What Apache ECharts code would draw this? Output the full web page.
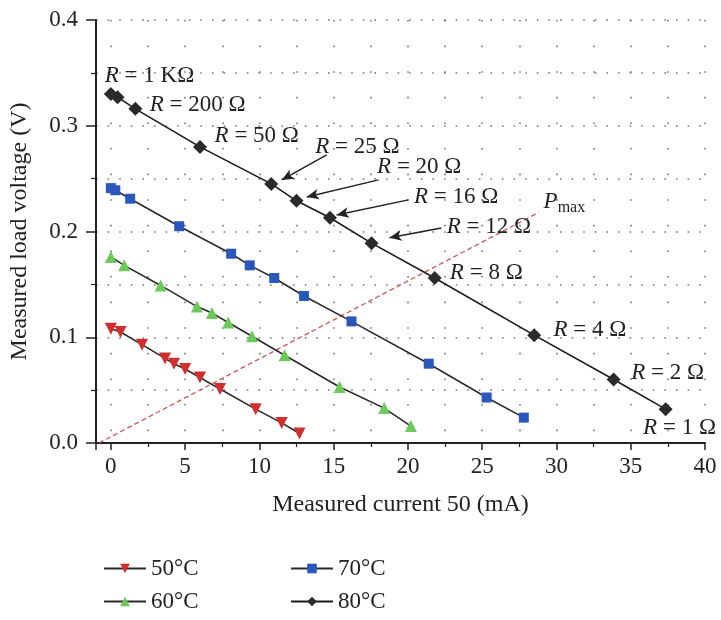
<!DOCTYPE html>
<html>
<head>
<meta charset="utf-8">
<script src="https://cdn.jsdelivr.net/npm/echarts@6/dist/echarts.min.js"></script>
<style>
html,body{margin:0;padding:0;background:#fff;}
#c{width:721px;height:620px;}
</style>
</head>
<body>
<div id="c"></div>
<script>
// ---- data ----
const seriesNames = ['50°C', '60°C', '70°C', '80°C'];

const x50 = [0, 0.65, 2.1, 3.65, 4.25, 5.0, 6.0, 7.35, 9.75, 11.5, 12.7];
const y50 = [0.108, 0.105, 0.093, 0.080, 0.075, 0.070, 0.062, 0.051, 0.032, 0.019, 0.009];

const x60 = [0, 0.9, 3.35, 5.8, 6.8, 7.9, 9.5, 11.7, 15.4, 18.4, 20.2];
const y60 = [0.176, 0.168, 0.149, 0.129, 0.123, 0.114, 0.101, 0.083, 0.053, 0.033, 0.016];

const x70 = [0, 0.3, 1.3, 4.6, 8.1, 9.35, 11.0, 13.0, 16.2, 21.4, 25.3, 27.8];
const y70 = [0.241, 0.239, 0.231, 0.205, 0.179, 0.168, 0.156, 0.139, 0.115, 0.075, 0.043, 0.024];

const x80 = [0, 0.45, 1.65, 6.0, 10.8, 12.5, 14.75, 17.55, 21.8, 28.5, 33.85, 37.35];
const y80 = [0.330, 0.327, 0.316, 0.280, 0.245, 0.229, 0.213, 0.189, 0.156, 0.102, 0.060, 0.032];

// P_max line end points
const pmaxX = [-0.8, 28.8];
const pmaxY = [0, 0.218];

// annotation labels (left edge x, vertical centre y, in data units)
const labelText = ['R = 1 KΩ', 'R = 200 Ω', 'R = 50 Ω', 'R = 25 Ω', 'R = 20 Ω', 'R = 16 Ω',
                   'R = 12 Ω', 'R = 8 Ω', 'R = 4 Ω', 'R = 2 Ω', 'R = 1 Ω', 'Pmax'];
const labelX = [-0.44, 2.58, 6.95, 13.72, 17.89, 20.37, 22.58, 22.79, 29.77, 35.0, 35.8, 29.1];
const labelY = [0.347, 0.320, 0.290, 0.280, 0.261, 0.233, 0.204, 0.161, 0.107, 0.066, 0.014, 0.228];

// arrows: from (ax0,ay0) to (ax1,ay1) in data units
const arrowX0 = [14.53, 18.02, 20.03, 22.25];
const arrowY0 = [0.2725, 0.2488, 0.2299, 0.2034];
const arrowX1 = [11.51, 13.19, 15.2, 18.76];
const arrowY1 = [0.2488, 0.2327, 0.2157, 0.194];

// axis ticks
const xTicks = [0, 5, 10, 15, 20, 25, 30, 35, 40];
const yTicks = [0.0, 0.1, 0.2, 0.3, 0.4];

// ---- build ----
const FONT = 'Liberation Serif';
const zip = (xs, ys) => xs.map((v, i) => [v, ys[i]]);

const markerStyle = [
  {symbol: 'triangle', rotate: 180, color: '#d12f2f', size: 12},
  {symbol: 'triangle', rotate: 0, color: '#6cc95a', size: 12},
  {symbol: 'rect', rotate: 0, color: '#2b56bb', size: 10},
  {symbol: 'diamond', rotate: 0, color: '#2a2a2a', size: 14}
];
const lineColors = ['#2a2a2a', '#2a2a2a', '#2a2a2a', '#1a1a1a'];
const dataSets = [zip(x50, y50), zip(x60, y60), zip(x70, y70), zip(x80, y80)];

const dataSeries = seriesNames.map((n, i) => ({
  name: n,
  type: 'line',
  data: dataSets[i],
  symbol: markerStyle[i].symbol,
  symbolRotate: markerStyle[i].rotate,
  symbolSize: markerStyle[i].size,
  showAllSymbol: true,
  lineStyle: {color: lineColors[i], width: 1.6},
  itemStyle: {color: markerStyle[i].color},
  z: 5,
  silent: true,
  animation: false
}));

function fmtLabel(t) {
  if (t === 'Pmax') return '{i|P}{s|max}';
  return '{i|R}' + t.slice(1);
}

const LFS = 23;
const labelSeries = {
  type: 'scatter',
  data: labelText.map((t, i) => ({value: [labelX[i], labelY[i]], name: t})),
  symbolSize: 1,
  itemStyle: {color: 'rgba(0,0,0,0)', opacity: 1},
  z: 10,
  silent: true,
  animation: false,
  label: {
    show: true,
    position: 'right',
    distance: 0,
    formatter: p => fmtLabel(p.name),
    color: '#222',
    opacity: 1,
    fontFamily: FONT,
    fontSize: LFS,
    rich: {
      i: {fontFamily: FONT, fontStyle: 'italic', fontSize: LFS, color: '#222'},
      s: {fontFamily: FONT, fontSize: 16, color: '#222', padding: [12, 0, 0, 0]}
    }
  },
  labelLayout: {hideOverlap: false}
};

const arrowSeries = {
  type: 'line',
  data: [],
  silent: true,
  animation: false,
  markLine: {
    silent: true,
    animation: false,
    symbol: ['none', 'arrow'],
    symbolSize: [8, 12],
    label: {show: false},
    lineStyle: {color: '#222', width: 1.5, type: 'solid'},
    data: arrowX0.map((v, i) => [
      {coord: [v, arrowY0[i]]},
      {coord: [arrowX1[i], arrowY1[i]]}
    ])
  }
};

const pmaxSeries = {
  type: 'line',
  data: zip(pmaxX, pmaxY),
  symbol: 'none',
  silent: true,
  animation: false,
  lineStyle: {color: '#c9575d', width: 1.3, type: [5, 3]},
  z: 3
};

const chart = echarts.init(document.getElementById('c'), null, {renderer: 'canvas'});
chart.setOption({
  animation: false,
  backgroundColor: '#fff',
  grid: {left: 94, right: 16, top: 20, bottom: 177},
  xAxis: {
    type: 'value',
    min: -1,
    max: 40,
    splitNumber: 8,
    name: 'Measured current 50 (mA)',
    nameLocation: 'middle',
    nameGap: 50,
    nameTextStyle: {fontFamily: FONT, fontSize: 24, color: '#222'},
    axisLine: {onZero: false, lineStyle: {color: '#222', width: 2}},
    axisTick: {show: true, length: 7, lineStyle: {color: '#222', width: 1.5}},
    minorTick: {show: true, splitNumber: 2, length: 4, lineStyle: {color: '#222', width: 1.2}},
    axisLabel: {
      fontFamily: FONT, fontSize: 23, color: '#222', margin: 12,
      formatter: v => (xTicks.indexOf(v) >= 0 ? String(v) : '')
    },
    splitLine: {show: true, lineStyle: {color: '#777', width: 1.6, type: [1.6, 24]}},
    minorSplitLine: {show: true, lineStyle: {color: '#777', width: 1.6, type: [1.6, 24]}}
  },
  yAxis: {
    type: 'value',
    min: 0,
    max: 0.4,
    interval: 0.1,
    name: 'Measured load voltage (V)',
    nameLocation: 'middle',
    nameGap: 64,
    nameTextStyle: {fontFamily: FONT, fontSize: 24, color: '#222'},
    axisLine: {show: true, onZero: false, lineStyle: {color: '#222', width: 2}},
    axisTick: {show: true, length: 10, lineStyle: {color: '#222', width: 1.5}},
    minorTick: {show: true, splitNumber: 2, length: 5, lineStyle: {color: '#222', width: 1.2}},
    axisLabel: {
      fontFamily: FONT, fontSize: 23, color: '#222', margin: 18,
      formatter: v => {
        const k = yTicks.findIndex(t => Math.abs(t - v) < 1e-9);
        return k >= 0 ? yTicks[k].toFixed(1) : '';
      }
    },
    splitLine: {show: true, lineStyle: {color: '#777', width: 1.6, type: [1.6, 10]}},
    minorSplitLine: {show: true, lineStyle: {color: '#777', width: 1.6, type: [1.6, 10]}}
  },
  legend: [
    {
      data: [seriesNames[0], seriesNames[1]],
      orient: 'vertical',
      left: 98, top: 552,
      itemWidth: 42, itemHeight: 12, itemGap: 10,
      textStyle: {fontFamily: FONT, fontSize: 23, color: '#222'},
      selectedMode: false
    },
    {
      data: [seriesNames[2], seriesNames[3]],
      orient: 'vertical',
      left: 285, top: 552,
      itemWidth: 42, itemHeight: 12, itemGap: 10,
      textStyle: {fontFamily: FONT, fontSize: 23, color: '#222'},
      selectedMode: false
    }
  ],
  series: [pmaxSeries].concat(dataSeries, [arrowSeries, labelSeries])
});
</script>
</body>
</html>
